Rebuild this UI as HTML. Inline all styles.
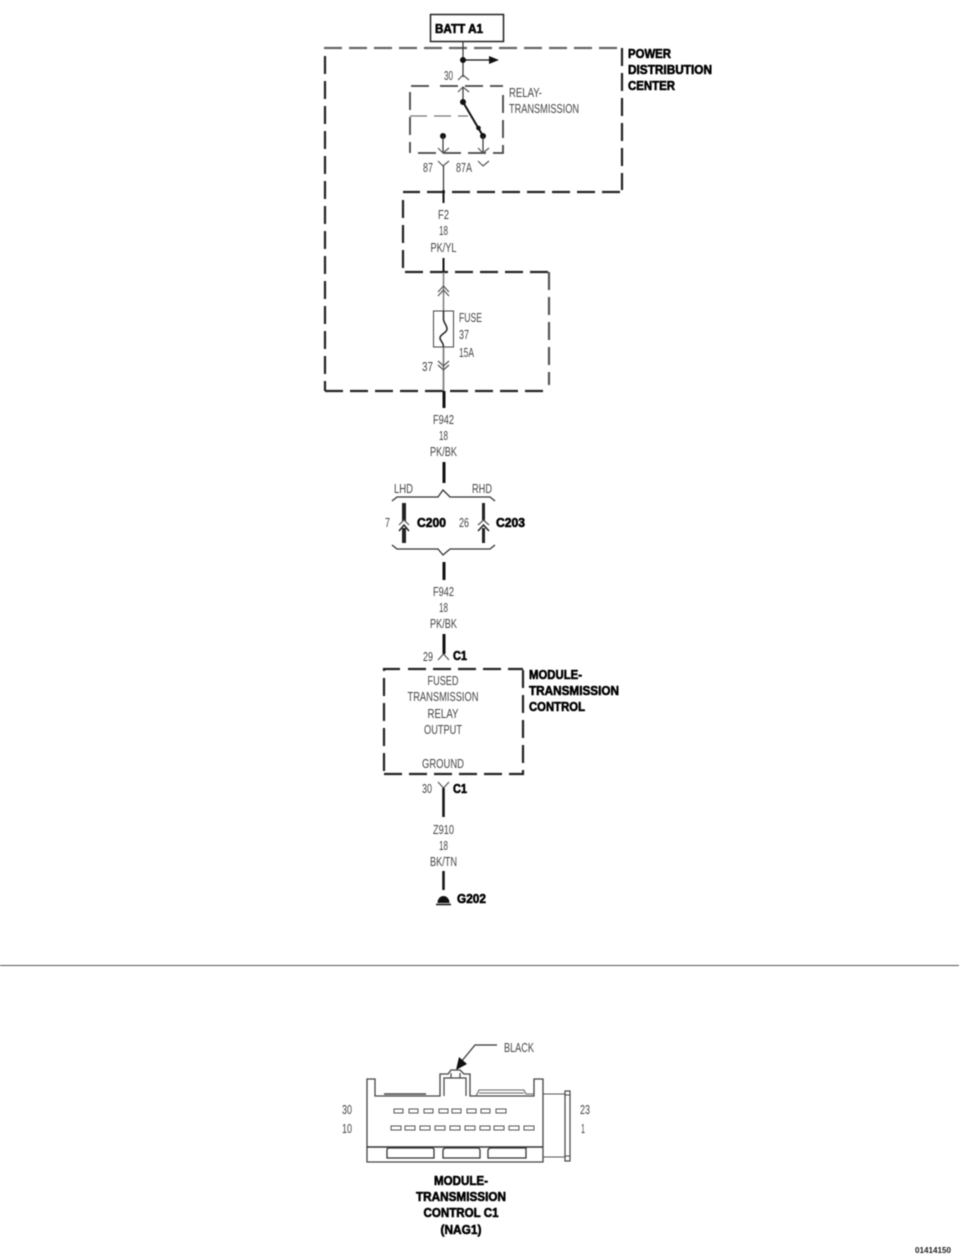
<!DOCTYPE html>
<html>
<head>
<meta charset="utf-8">
<style>
html,body{margin:0;padding:0;background:#fff}
svg{display:block;filter:blur(.45px)}
text{font-family:"Liberation Sans",sans-serif}
.t{font-size:13px;fill:#444}
.b{font-size:13px;font-weight:bold;fill:#000;stroke:#000;stroke-width:.6}
.d{fill:none;stroke:#222;stroke-width:2.2;stroke-dasharray:18 7}
.w{fill:none;stroke:#333;stroke-width:1.2}
.g{fill:none;stroke:#777;stroke-width:1.4}
.k{fill:none;stroke:#111;stroke-width:3}
.c{fill:none;stroke:#555;stroke-width:1.2}
</style>
</head>
<body>
<svg width="960" height="1257" viewBox="0 0 960 1257" xmlns="http://www.w3.org/2000/svg">
<rect width="960" height="1257" fill="#fff"/>

<!-- BATT -->
<rect x="430.5" y="14.5" width="73" height="27" fill="#fff" stroke="#222" stroke-width="1.5"/>
<text class="b" x="435" y="33" textLength="48" lengthAdjust="spacingAndGlyphs">BATT A1</text>

<!-- PDC dashed outline -->
<path class="d" style="stroke:#666" d="M324 48H620"/>
<path class="d" d="M325 56V391"/>
<path class="d" d="M325 391H550"/>
<path class="d" d="M622 48V190"/>
<path class="d" d="M620 192H403"/>
<path class="d" d="M403 200V268"/>
<path class="d" d="M405 272H549"/>
<path class="d" style="stroke:#555" d="M549 272V385"/>
<text class="b" x="628" y="58" textLength="43" lengthAdjust="spacingAndGlyphs">POWER</text>
<text class="b" x="628" y="74" textLength="84" lengthAdjust="spacingAndGlyphs">DISTRIBUTION</text>
<text class="b" x="628" y="90" textLength="47" lengthAdjust="spacingAndGlyphs">CENTER</text>

<!-- top wire and branch -->
<path class="w" d="M463 41V77"/>
<circle cx="463" cy="60" r="3" fill="#111"/>
<path d="M463 60H490" stroke="#111" stroke-width="1.3" fill="none"/>
<path d="M489 56L499 60L489 64Z" fill="#111"/>
<text class="t" x="444" y="80" textLength="9" lengthAdjust="spacingAndGlyphs">30</text>
<path class="c" d="M458 80L463 75L469 80"/>

<!-- relay -->
<path class="d" style="stroke-width:1.8;stroke-dasharray:18 7;stroke:#444" d="M429 86H410V153"/>
<path class="d" style="stroke-width:1.8;stroke-dasharray:18 7;stroke:#444" d="M418 153H503V92"/>
<path class="d" style="stroke-width:1.8;stroke-dasharray:18 7;stroke:#444" d="M440 86H503"/>
<path d="M410 116H468" fill="none" stroke="#777" stroke-width="1.2" stroke-dasharray="17 7"/>
<path class="c" d="M458 92L463 87L469 92"/>
<path class="w" d="M463 87V102"/>
<path d="M463 102L483 136" stroke="#111" stroke-width="2" fill="none"/>
<circle cx="463" cy="102" r="3" fill="#111"/>
<circle cx="478.500" cy="128" r="2.300" fill="#111"/>
<circle cx="483" cy="136" r="3" fill="#111"/>
<circle cx="443" cy="136" r="3" fill="#111"/>
<path class="w" d="M443 136V153M483 136V153"/>
<path class="c" d="M438 148L443 153L449 148M478 148L483 153L489 148"/>
<path class="c" d="M438 161L443 166L449 161M478 161L483 166L489 161"/>
<text class="t" x="423" y="172" textLength="10" lengthAdjust="spacingAndGlyphs">87</text>
<text class="t" x="456" y="172" textLength="16" lengthAdjust="spacingAndGlyphs">87A</text>
<text class="t" x="509" y="97" textLength="33" lengthAdjust="spacingAndGlyphs">RELAY-</text>
<text class="t" x="509" y="113" textLength="70" lengthAdjust="spacingAndGlyphs">TRANSMISSION</text>

<!-- wire F2 -->
<path class="w" d="M443.500 166V192"/>
<path class="k" style="stroke-width:2" d="M443.500 190V203M443.500 258V273"/>
<text class="t" x="443.500" y="219" text-anchor="middle" textLength="11" lengthAdjust="spacingAndGlyphs">F2</text>
<text class="t" x="443.500" y="235" text-anchor="middle" textLength="9" lengthAdjust="spacingAndGlyphs">18</text>
<text class="t" x="443.500" y="252" text-anchor="middle" textLength="26" lengthAdjust="spacingAndGlyphs">PK/YL</text>

<!-- fuse -->
<path class="g" d="M443.500 272V392"/>
<path class="c" d="M438 292L443.500 286L449 292M438 296L443.500 290L449 296"/>
<rect x="433.500" y="311" width="20" height="36" fill="#fff" stroke="#444" stroke-width="1"/>
<path d="M443.500 311V319C443.500 323 447 325 447 329C447 333 440 334 440 338C440 341 443.500 342 443.500 347" fill="none" stroke="#222" stroke-width="1.5"/>
<path class="g" d="M443.500 347V392"/>
<path class="c" d="M438 361L443.500 366L449 361M438 365L443.500 370L449 365"/>
<text class="t" x="459" y="322" textLength="23" lengthAdjust="spacingAndGlyphs">FUSE</text>
<text class="t" x="459" y="339" textLength="10" lengthAdjust="spacingAndGlyphs">37</text>
<text class="t" x="459" y="357" textLength="15" lengthAdjust="spacingAndGlyphs">15A</text>
<text class="t" x="422" y="371" textLength="11" lengthAdjust="spacingAndGlyphs">37</text>

<!-- F942 upper -->
<path class="k" d="M444 391V408M444 462V483"/>
<text class="t" x="443.500" y="424" text-anchor="middle" textLength="21" lengthAdjust="spacingAndGlyphs">F942</text>
<text class="t" x="443.500" y="440" text-anchor="middle" textLength="9" lengthAdjust="spacingAndGlyphs">18</text>
<text class="t" x="443.500" y="456" text-anchor="middle" textLength="27" lengthAdjust="spacingAndGlyphs">PK/BK</text>

<!-- LHD/RHD braces -->
<path d="M392 501L397 497H438L443 490L450 497H490L495 501" fill="none" stroke="#333" stroke-width="1.3"/>
<path d="M392 545L397 549H438L443 555L450 549H490L495 545" fill="none" stroke="#333" stroke-width="1.3"/>
<text class="t" x="394" y="493" textLength="19" lengthAdjust="spacingAndGlyphs">LHD</text>
<text class="t" x="472" y="493" textLength="20" lengthAdjust="spacingAndGlyphs">RHD</text>

<path d="M404 503V521" stroke="#222" stroke-width="4" fill="none"/>
<path class="c" d="M399 525L404 520L409 525"/>
<path d="M404 528V543" stroke="#222" stroke-width="4" fill="none"/>
<path d="M399 531L404 525L409 531" fill="none" stroke="#222" stroke-width="1.5"/>
<text class="t" x="385" y="527" textLength="5" lengthAdjust="spacingAndGlyphs">7</text>
<text class="b" x="417" y="527" textLength="29" lengthAdjust="spacingAndGlyphs">C200</text>

<path d="M483.500 503V521" stroke="#222" stroke-width="3" fill="none"/>
<path class="c" d="M478 525L483.500 520L489 525"/>
<path d="M483.500 528V543" stroke="#222" stroke-width="3" fill="none"/>
<path d="M478 531L483.500 525L489 531" fill="none" stroke="#222" stroke-width="1.5"/>
<text class="t" x="459" y="527" textLength="10" lengthAdjust="spacingAndGlyphs">26</text>
<text class="b" x="496" y="527" textLength="29" lengthAdjust="spacingAndGlyphs">C203</text>

<!-- F942 lower -->
<path class="k" d="M444 562V580M444 634V654"/>
<text class="t" x="443.500" y="596" text-anchor="middle" textLength="21" lengthAdjust="spacingAndGlyphs">F942</text>
<text class="t" x="443.500" y="612" text-anchor="middle" textLength="9" lengthAdjust="spacingAndGlyphs">18</text>
<text class="t" x="443.500" y="628" text-anchor="middle" textLength="27" lengthAdjust="spacingAndGlyphs">PK/BK</text>
<path class="c" d="M438 660L443.500 654L449 660"/>
<text class="t" x="423" y="661" textLength="10" lengthAdjust="spacingAndGlyphs">29</text>
<text class="b" x="453" y="660" textLength="14" lengthAdjust="spacingAndGlyphs">C1</text>

<!-- module box -->
<path class="d" d="M400 669H384V774"/>
<path class="d" d="M384 774H523V668"/>
<path class="d" d="M408 669H523"/>
<text class="b" x="529" y="679" textLength="53" lengthAdjust="spacingAndGlyphs">MODULE-</text>
<text class="b" x="529" y="695" textLength="90" lengthAdjust="spacingAndGlyphs">TRANSMISSION</text>
<text class="b" x="529" y="711" textLength="56" lengthAdjust="spacingAndGlyphs">CONTROL</text>
<text class="t" x="443" y="685" text-anchor="middle" textLength="31" lengthAdjust="spacingAndGlyphs">FUSED</text>
<text class="t" x="443" y="701" text-anchor="middle" textLength="71" lengthAdjust="spacingAndGlyphs">TRANSMISSION</text>
<text class="t" x="443" y="718" text-anchor="middle" textLength="31" lengthAdjust="spacingAndGlyphs">RELAY</text>
<text class="t" x="443" y="734" text-anchor="middle" textLength="38" lengthAdjust="spacingAndGlyphs">OUTPUT</text>
<text class="t" x="443" y="768" text-anchor="middle" textLength="42" lengthAdjust="spacingAndGlyphs">GROUND</text>

<!-- lower wire -->
<path class="c" d="M438 782L443.500 788L449 782"/>
<path class="k" style="stroke-width:2.500" d="M443.500 788V817M443.500 871V890"/>
<text class="t" x="422" y="793" textLength="10" lengthAdjust="spacingAndGlyphs">30</text>
<text class="b" x="453" y="793" textLength="14" lengthAdjust="spacingAndGlyphs">C1</text>
<text class="t" x="443.500" y="834" text-anchor="middle" textLength="21" lengthAdjust="spacingAndGlyphs">Z910</text>
<text class="t" x="443.500" y="850" text-anchor="middle" textLength="9" lengthAdjust="spacingAndGlyphs">18</text>
<text class="t" x="443.500" y="866" text-anchor="middle" textLength="27" lengthAdjust="spacingAndGlyphs">BK/TN</text>
<path d="M437.500 903A6 7 0 0 1 449.500 903Z" fill="#111"/>
<path d="M436 904.500H451" stroke="#111" stroke-width="1.500"/>
<text class="b" x="457" y="903" textLength="29" lengthAdjust="spacingAndGlyphs">G202</text>

<!-- separator -->
<path d="M0 965.500H959" stroke="#555" stroke-width="1"/>

<!-- connector view -->
<text class="t" x="504" y="1052" textLength="30" lengthAdjust="spacingAndGlyphs">BLACK</text>
<path d="M497 1045H475L461 1062" fill="none" stroke="#333" stroke-width="1.200"/>
<path d="M456 1070L459 1057L467 1064Z" fill="#111"/>
<path d="M367 1079H375V1096H440V1074H448L451 1070H460L464 1074H470V1096H534V1079H543V1162H367Z" fill="#fff" stroke="#444" stroke-width="1.300"/>
<path d="M444 1096V1078H451V1073M466 1096V1078H460V1073M451 1078H460" fill="none" stroke="#444" stroke-width="1.200"/>
<path d="M384 1094H426" stroke="#444" stroke-width="1.500"/>
<path d="M476 1096L479 1090H524L526 1094H534M479 1093H524" fill="none" stroke="#666" stroke-width="1.100"/>
<path d="M367 1147H543" stroke="#333" stroke-width="1.600"/>
<path d="M543 1094H565M543 1157H565" stroke="#555" stroke-width="1.100"/>
<rect x="565" y="1091" width="5" height="70" fill="#fff" stroke="#444" stroke-width="1.200"/>
<path d="M565 1095H570M565 1156H570" stroke="#444"/>
<g fill="#fff" stroke="#555" stroke-width="1">
<rect x="394" y="1109" width="9" height="4"/>
<rect x="409" y="1109" width="9" height="4"/>
<rect x="424" y="1109" width="9" height="4"/>
<rect x="439" y="1109" width="9" height="4"/>
<rect x="452" y="1109" width="9" height="4"/>
<rect x="467" y="1109" width="9" height="4"/>
<rect x="481" y="1109" width="9" height="4"/>
<rect x="496" y="1109" width="10" height="4"/>
<rect x="391" y="1126" width="10" height="4"/>
<rect x="405" y="1126" width="10" height="4"/>
<rect x="420" y="1126" width="10" height="4"/>
<rect x="435" y="1126" width="10" height="4"/>
<rect x="450" y="1126" width="10" height="4"/>
<rect x="465" y="1126" width="10" height="4"/>
<rect x="480" y="1126" width="10" height="4"/>
<rect x="494" y="1126" width="10" height="4"/>
<rect x="509" y="1126" width="10" height="4"/>
<rect x="524" y="1126" width="10" height="4"/>
</g>
<g fill="#fff" stroke="#333" stroke-width="1.300">
<path d="M387 1158V1150Q387 1148 389 1148H432Q434 1148 434 1150V1158Z"/>
<path d="M443 1158V1151Q443 1148 446 1148H478Q480 1148 480 1151V1158Z"/>
<path d="M488 1158V1151Q488 1148 491 1148H526V1158Z"/>
</g>
<text class="t" x="342" y="1114" textLength="10" lengthAdjust="spacingAndGlyphs">30</text>
<text class="t" x="342" y="1133" textLength="10" lengthAdjust="spacingAndGlyphs">10</text>
<text class="t" x="580" y="1114" textLength="10" lengthAdjust="spacingAndGlyphs">23</text>
<text class="t" x="581" y="1133" textLength="4" lengthAdjust="spacingAndGlyphs">1</text>

<text class="b" x="461" y="1185" text-anchor="middle" textLength="54" lengthAdjust="spacingAndGlyphs">MODULE-</text>
<text class="b" x="461" y="1201" text-anchor="middle" textLength="90" lengthAdjust="spacingAndGlyphs">TRANSMISSION</text>
<text class="b" x="461" y="1217" text-anchor="middle" textLength="75" lengthAdjust="spacingAndGlyphs">CONTROL C1</text>
<text class="b" x="461" y="1234" text-anchor="middle" textLength="41" lengthAdjust="spacingAndGlyphs">(NAG1)</text>
<text x="915" y="1253" font-size="8" font-weight="bold" fill="#222" textLength="36" lengthAdjust="spacingAndGlyphs">01414150</text>
</svg>
</body>
</html>
